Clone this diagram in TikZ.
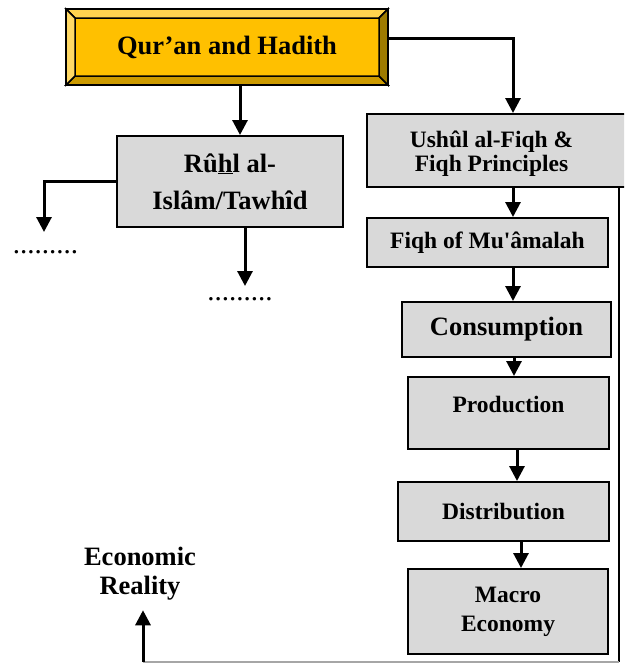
\documentclass[tikz,border=0pt]{standalone}
\usepackage{fontspec}
\setmainfont{Liberation Serif}
\usetikzlibrary{arrows.meta}
\definecolor{boxgray}{HTML}{D9D9D9}
\definecolor{gold}{HTML}{FFC000}
\definecolor{goldtop}{HTML}{FFD34F}
\definecolor{goldleft}{HTML}{FFD966}
\definecolor{goldright}{HTML}{9E7B00}
\definecolor{goldbottom}{HTML}{CC9A00}
\newcommand{\bigtxt}{\fontsize{26.5}{30}\selectfont\bfseries}
\newcommand{\smalltxt}{\fontsize{23.5}{24}\selectfont\bfseries}
\newcommand{\dottxt}{\fontsize{29}{30}\selectfont}

\begin{document}
\begin{tikzpicture}[x=1pt,y=-1pt,
  greybox/.style={draw,line width=2pt,fill=boxgray,inner sep=0pt},
  arr/.style={line width=3pt,-{Triangle[width=15pt,length=15pt]}},
  bevel/.style={line width=1.5pt}]
\useasboundingbox (0,0) rectangle (624,664);
\clip (0,0) rectangle (624,664);

% source box
\node[draw,line width=2pt,fill=gold,minimum width=320pt,minimum height=74pt,inner sep=0pt,font=\bigtxt] (quran) at (227,47) {Qur’an and Hadith};
\filldraw[bevel,fill=goldtop] (quran.north west) -- (quran.north east) -- ([shift={(-9,9)}]quran.north east) -- ([shift={(9,9)}]quran.north west) -- cycle;
\filldraw[bevel,fill=goldbottom] (quran.south west) -- (quran.south east) -- ([shift={(-9,-9)}]quran.south east) -- ([shift={(9,-9)}]quran.south west) -- cycle;
\filldraw[bevel,fill=goldleft] (quran.north west) -- ([shift={(9,9)}]quran.north west) -- ([shift={(9,-9)}]quran.south west) -- (quran.south west) -- cycle;
\filldraw[bevel,fill=goldright] (quran.north east) -- ([shift={(-9,9)}]quran.north east) -- ([shift={(-9,-9)}]quran.south east) -- (quran.south east) -- cycle;
\draw[line width=2pt] (quran.north west) rectangle (quran.south east);

\node[greybox,minimum width=226pt,minimum height=91pt,align=center,font={\fontsize{26.5}{37}\selectfont\bfseries}] (ruh) at (230,181.5) {Rû\underline{h}l al-\\Islâm/Tawhîd};
\node[greybox,minimum width=273pt,minimum height=73pt,font=\smalltxt] (ushul) at (503.5,150.5) {\begin{tabular}{@{}c@{}}Ushûl al-Fiqh \&\\Fiqh Principles\\[-9pt]\end{tabular}\hspace*{24pt}};
\node[greybox,minimum width=241pt,minimum height=49pt,font=\smalltxt] (fiqh) at (487.5,242.5) {Fiqh of Mu\textquotesingle âmalah};
\node[greybox,minimum width=209pt,minimum height=55pt,font=\bigtxt] (cons) at (506.5,329.5) {Consumption};
\node[greybox,minimum width=201pt,minimum height=72pt,text depth=18pt,font=\smalltxt] (prod) at (508.5,413) {Production};
\node[greybox,minimum width=211pt,minimum height=59pt,font=\smalltxt] (dist) at (503.5,511.5) {Distribution};
\node[greybox,minimum width=200pt,minimum height=85pt,align=center,font={\fontsize{23.5}{29}\selectfont\bfseries}] (macro) at (508,611.5) {Macro\\Economy};
\node[inner xsep=0pt,inner ysep=10pt,align=center,font={\fontsize{26.5}{29}\selectfont\bfseries}] (econ) at (140,573.5) {Economic\\Reality};

\node[anchor=base,inner sep=0pt,font=\dottxt] (dotsl) at (45.5,253) {.........};
\node[anchor=base,inner sep=0pt,font=\dottxt] (dotsc) at (240,300) {.........};
\coordinate (lefttip) at (44,232);
\coordinate (downtip) at (245,286);
\coordinate (corner) at (619,662);
\coordinate (foot) at (143,662);

\draw[arr] (quran.south -| 240,0) -- (ruh.north -| 240,0);
\draw[arr] (quran.east |- 0,38) -| (ushul.north -| 513,0);
\draw[arr] (ruh.west) -| (lefttip);
\draw[arr] (ruh.south -| downtip) -- (downtip);
\foreach \a/\b/\x in {ushul/fiqh/513,fiqh/cons/513,cons/prod/514,prod/dist/517,dist/macro/521}
  \draw[arr] (\a.south -| \x,0) -- (\b.north -| \x,0);

\draw[line width=1.5pt] (ushul.south -| corner) -- (corner);
\draw[line width=1.5pt,gray!70] (corner) -- (foot);
\draw[arr] (foot) -- (foot |- econ.south);
\end{tikzpicture}
\end{document}
